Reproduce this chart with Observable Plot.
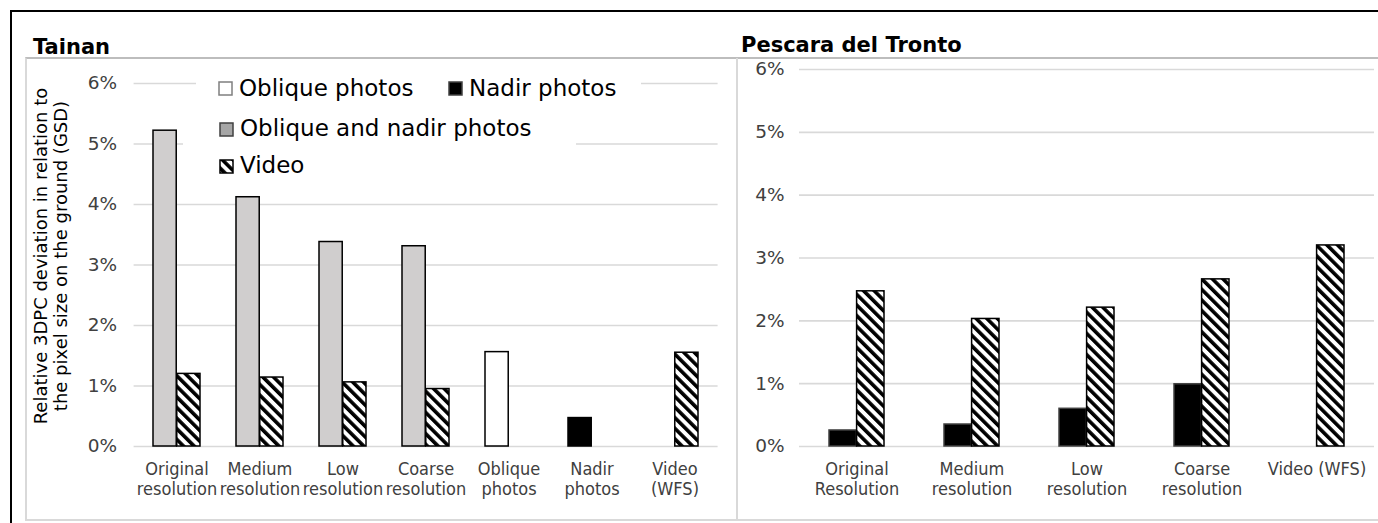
<!DOCTYPE html>
<html><head><meta charset="utf-8">
<script src="https://cdn.jsdelivr.net/npm/d3@7"></script>
<script src="https://cdn.jsdelivr.net/npm/@observablehq/plot@0.6"></script>
<style>
html,body{margin:0;padding:0;background:#fff;}
#wrap{position:relative;width:1378px;height:523px;overflow:hidden;background:#fff;font-family:"DejaVu Sans",sans-serif;}
.abs{position:absolute;}
.title{position:absolute;font-family:"DejaVu Sans",sans-serif;font-weight:bold;font-size:21px;line-height:21px;color:#000;white-space:nowrap;}
.lgtext{position:absolute;font-family:"DejaVu Sans",sans-serif;font-size:23px;line-height:23px;color:#000;white-space:nowrap;}
.lgbg{position:absolute;background:#fff;}
svg.plot{position:absolute;top:0;max-width:none;}
</style></head><body>
<svg width="0" height="0" style="position:absolute">
  <defs>
    <pattern id="hatch" patternUnits="userSpaceOnUse" width="7.5" height="7.5" patternTransform="rotate(-45)">
      <rect width="7.5" height="7.5" fill="#fff"/>
      <rect width="3.6" height="7.5" fill="#000"/>
    </pattern>
  </defs>
</svg>
<div id="wrap">
  <div class="abs" style="left:10px;top:10px;width:1400px;height:600px;border-top:2px solid #000;border-left:2px solid #000;"></div>
  <div class="abs" style="left:25px;top:57px;width:1400px;height:460px;border:2px solid #d9d9d9;border-top-color:#bdbdbd;"></div>
  <div class="abs" style="left:736px;top:58px;width:2px;height:461px;background:#d9d9d9;"></div>
  <div class="title" style="left:33px;top:37px;">Tainan</div>
  <div class="title" style="left:741px;top:35px;">Pescara del Tronto</div>
  <div id="leftHost"></div>
  <div id="rightHost"></div>
  <div class="abs" style="left:-159px;top:236px;width:420px;height:40px;transform:rotate(-90deg);text-align:center;font-family:'DejaVu Sans',sans-serif;font-size:18px;line-height:20px;color:#000;white-space:pre;">Relative 3DPC deviation in relation to
the pixel size on the ground (GSD)</div>
  <div id="legend"></div>
</div>
<script>
// ---- data ----
const yTicks = [0, 1, 2, 3, 4, 5, 6];

const tainanCategories = ["Original\nresolution", "Medium\nresolution", "Low\nresolution", "Coarse\nresolution", "Oblique\nphotos", "Nadir\nphotos", "Video\n(WFS)"];
const tainanObliqueNadir = [5.22, 4.12, 3.38, 3.31, null, null, null];
const tainanOblique      = [null, null, null, null, 1.56, null, null];
const tainanNadir        = [null, null, null, null, null, 0.47, null];
const tainanVideo        = [1.20, 1.14, 1.06, 0.95, null, null, 1.55];

const pescaraCategories = ["Original\nResolution", "Medium\nresolution", "Low\nresolution", "Coarse\nresolution", "Video (WFS)"];
const pescaraNadir = [0.255, 0.35, 0.60, 0.99, null];
const pescaraVideo = [2.47, 2.03, 2.21, 2.66, 3.20];

const legendLabels = ["Oblique photos", "Nadir photos", "Oblique and nadir photos", "Video"];

// ---- helpers ----
const rows = (cats, vals) => cats.map((c, i) => ({cat: c, v: vals[i]})).filter(d => d.v != null);
const tickFont = '"DejaVu Sans Condensed","DejaVu Sans",sans-serif';
const gridStyle = {stroke: "#d9d9d9", strokeOpacity: 1, strokeWidth: 1.6};

function panel(cfg) {
  const plotW = cfg.width - cfg.ml - cfg.mr;
  const step = plotW / cfg.categories.length;
  const half = step * (1 - cfg.padIn) / 2;
  const marks = [
    Plot.gridY(yTicks, gridStyle),
    Plot.axisY(yTicks, {tickSize: 0, tickPadding: cfg.yPad, tickFormat: d => d + "%", fontSize: 18.5, fontFamily: '"DejaVu Sans",sans-serif', label: null}),
    Plot.axisX({tickSize: 0, tickPadding: 14, lineHeight: 1.11, fontSize: 18, label: null})
  ];
  for (const s of cfg.series) {
    const opts = {x: "cat", y: "v", fill: s.fill, stroke: s.stroke, strokeWidth: 1.5};
    if (s.slot === "left") opts.insetRight = half; else opts.insetLeft = half;
    marks.push(Plot.barY(rows(cfg.categories, s.values), opts));
  }
  const svg = Plot.plot({
    width: cfg.width, height: 523,
    marginLeft: cfg.ml, marginRight: cfg.mr, marginTop: cfg.mt, marginBottom: 77,
    style: {fontFamily: tickFont, fontSize: "18px", color: "#404040", background: "transparent", overflow: "visible"},
    x: {domain: cfg.categories, paddingInner: cfg.padIn, paddingOuter: cfg.padIn / 2, label: null},
    y: {domain: [0, 6], label: null},
    marks
  });
  svg.classList.add("plot");
  svg.style.left = cfg.left + "px";
  return svg;
}

const leftSvg = panel({
  left: 0, width: 730, ml: 133.6, mr: 12.4, mt: 83, padIn: 0.43, yPad: 17,
  categories: tainanCategories,
  series: [
    {values: tainanObliqueNadir, fill: "#d0cece", stroke: "#000", slot: "left"},
    {values: tainanOblique, fill: "#fff", stroke: "#000", slot: "left"},
    {values: tainanNadir, fill: "#000", stroke: "#000", slot: "left"},
    {values: tainanVideo, fill: "url(#hatch)", stroke: "#000", slot: "right"}
  ]
});
document.getElementById("leftHost").appendChild(leftSvg);

const rightSvg = panel({
  left: 740, width: 638, ml: 59, mr: 4, mt: 69, padIn: 0.52, yPad: 15,
  categories: pescaraCategories,
  series: [
    {values: pescaraNadir, fill: "#000", stroke: "#404040", slot: "left"},
    {values: pescaraVideo, fill: "url(#hatch)", stroke: "#000", slot: "right"}
  ]
});
document.getElementById("rightHost").appendChild(rightSvg);

// ---- legend (inside Tainan panel) ----
const lg = document.getElementById("legend");
const bgs = [[196, 74, 445, 27], [183, 118, 393, 29]];
for (const [l, t, w, h] of bgs) {
  const d = document.createElement("div");
  d.className = "lgbg";
  Object.assign(d.style, {left: l + "px", top: t + "px", width: w + "px", height: h + "px"});
  lg.appendChild(d);
}
const swatches = [
  {fill: "#fff", stroke: "#7f7f7f", x: 218, y: 81},
  {fill: "#000", stroke: "#404040", x: 448, y: 81},
  {fill: "#a6a6a6", stroke: "#404040", x: 219, y: 122},
  {fill: "url(#hatch)", stroke: "#000", x: 219, y: 159}
];
const textPos = [[239, 77], [469, 77], [240, 117], [240, 154]];
legendLabels.forEach((lab, i) => {
  const s = swatches[i];
  const ns = "http://www.w3.org/2000/svg";
  const sv = document.createElementNS(ns, "svg");
  sv.setAttribute("width", 16); sv.setAttribute("height", 16);
  sv.style.position = "absolute"; sv.style.left = s.x + "px"; sv.style.top = s.y + "px";
  const r = document.createElementNS(ns, "rect");
  r.setAttribute("x", 1); r.setAttribute("y", 1); r.setAttribute("width", 13); r.setAttribute("height", 13);
  r.setAttribute("fill", s.fill); r.setAttribute("stroke", s.stroke); r.setAttribute("stroke-width", 1.5);
  sv.appendChild(r);
  lg.appendChild(sv);
  const t = document.createElement("div");
  t.className = "lgtext";
  t.textContent = lab;
  t.style.left = textPos[i][0] + "px"; t.style.top = textPos[i][1] + "px";
  lg.appendChild(t);
});
</script>
</body></html>
